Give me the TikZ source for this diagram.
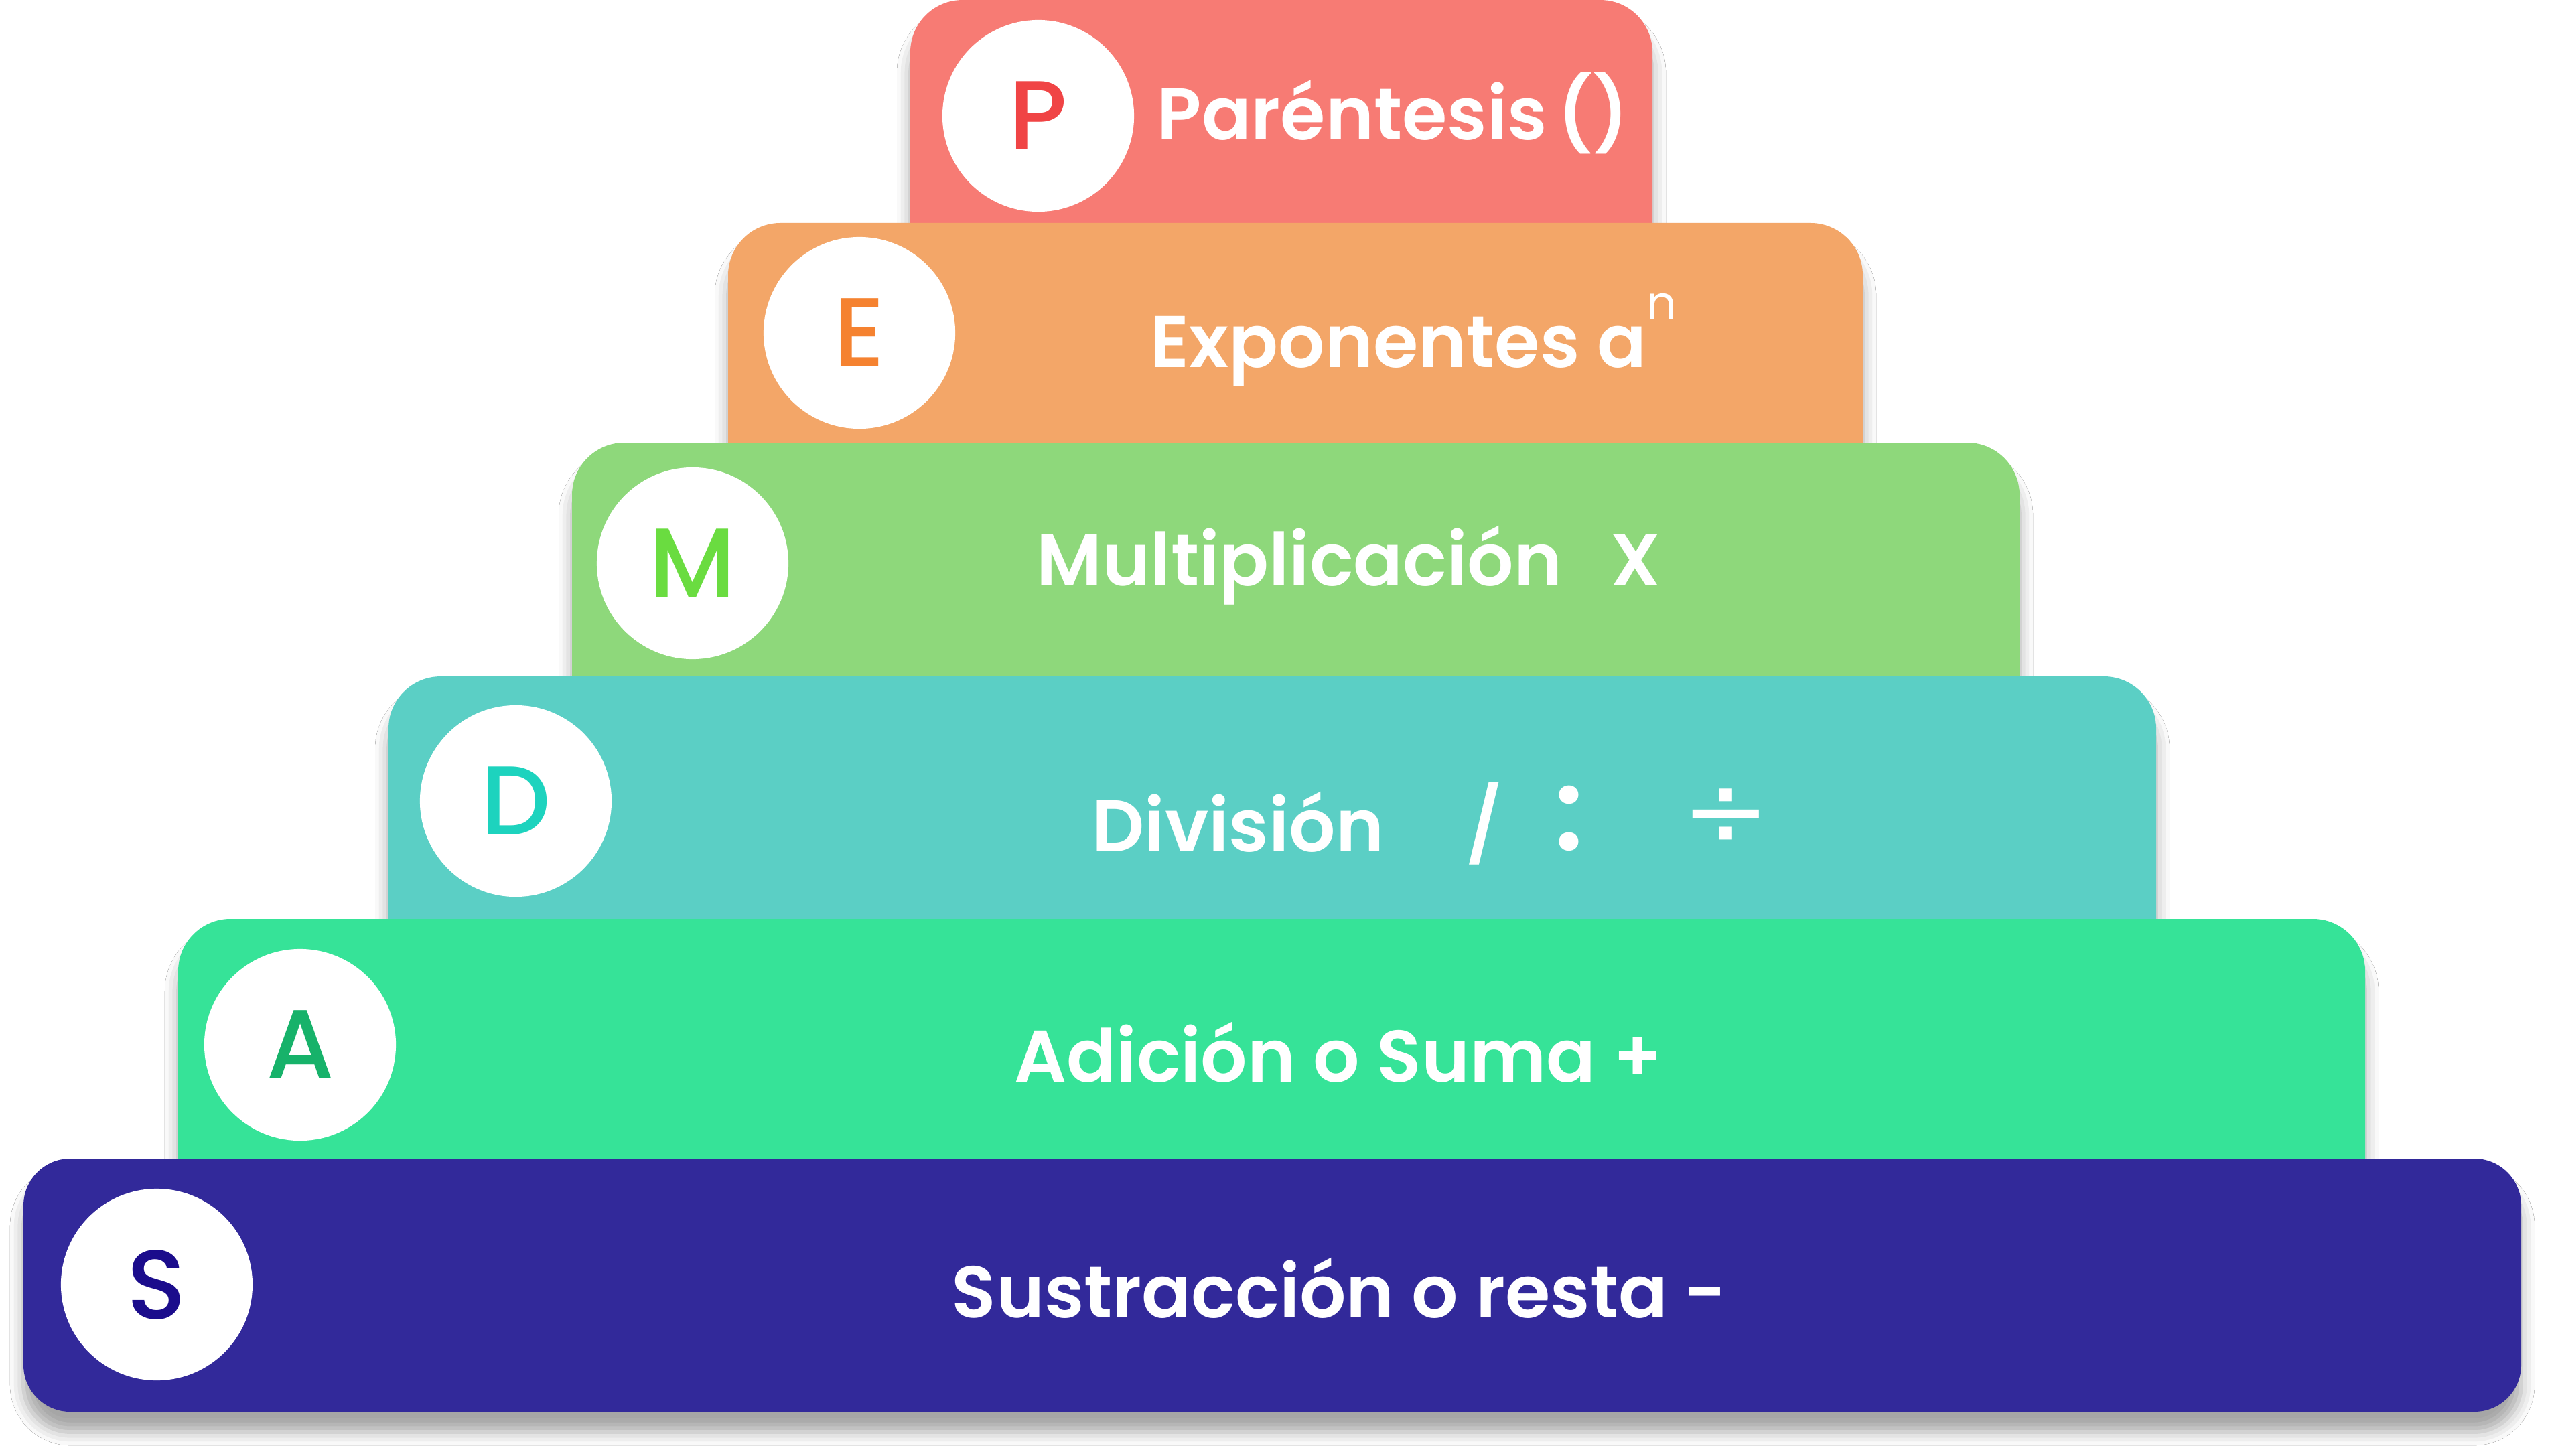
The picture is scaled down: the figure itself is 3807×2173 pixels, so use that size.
\documentclass[tikz,border=0pt]{standalone}
\usepackage{fontspec}
\setmainfont{Poppins}
\newfontfamily\popmed{Poppins Medium}
\newfontfamily\popsemi{Poppins SemiBold}
\newfontfamily\dejavu{DejaVu Sans}
\usetikzlibrary{shadows.blur}
\definecolor{cP}{HTML}{F77B74}
\definecolor{cE}{HTML}{F3A668}
\definecolor{cM}{HTML}{8ED87B}
\definecolor{cD}{HTML}{5BCFC5}
\definecolor{cA}{HTML}{36E398}
\definecolor{cS}{HTML}{32299A}
\definecolor{lP}{HTML}{F04445}
\definecolor{lE}{HTML}{F58230}
\definecolor{lM}{HTML}{6ADC40}
\definecolor{lD}{HTML}{1DD3BE}
\definecolor{lA}{HTML}{17B26A}
\definecolor{lS}{HTML}{1B0C8C}
\begin{document}
\begin{tikzpicture}[x=0.01cm,y=-0.01cm,
  stair/.style={rounded corners=0.78cm,
    blur shadow={shadow xshift=0cm, shadow yshift=-0.3cm, shadow blur radius=0.2cm, shadow opacity=35}},
  badge/.style={circle, fill=white, minimum size=2.86cm, inner sep=0pt,
    font=\popmed\fontsize{41.6}{50}\selectfont},
  lbl/.style={anchor=base west, inner sep=0pt, text=white,
    font=\popsemi\fontsize{31}{37}\selectfont},
  sym/.style={inner sep=0pt, text=white, font=\popsemi\fontsize{31}{37}\selectfont}]
\useasboundingbox (0,0) rectangle (3807,2173);
\fill[white] (0,0) rectangle (3807,2173);
% stairs
\fill[cP, stair] (1359,0) rectangle (2467,520);
\fill[cE, stair] (1087,333) rectangle (2781,880);
\fill[cM, stair] (854,661) rectangle (3015,1230);
\fill[cD, stair] (580,1010) rectangle (3219,1590);
\fill[cA, stair] (266,1372) rectangle (3531,1950);
\fill[cS, stair, rounded corners=0.7cm] (35,1730) rectangle (3764,2108);
% badges
\node[badge, text=lP] (bP) at (1550,173) {P};
\node[badge, text=lE] (bE) at (1283,497) {E};
\node[badge, text=lM] (bM) at (1034,841) {M};
\node[badge, text=lD] (bD) at (770,1196) {D};
\node[badge, text=lA] (bA) at (448,1560) {A};
\node[badge, text=lS] (bS) at (234,1918) {S};
% labels
\node[lbl] (tP) at (1727,209) {Paréntesis};
\node[lbl] (sP) at (2325,209) {()};
\node[lbl] (tE) at (1717,548) {Exponentes a};
\node[anchor=base west, inner sep=0pt, text=white, font=\fontsize{20}{24}\selectfont] (sE) at (2458,478) {n};
\node[lbl] (tM) at (1547,874) {Multiplicación};
\node[lbl] (sM) at (2404,874) {X};
\node[lbl] (tD) at (1630,1271) {División};
\node[sym] (sD1) at (2216,1230) {/};
\node[sym, font=\popsemi\fontsize{48}{56}\selectfont] (sD2) at (2343,1222) {:};
\node[sym, font=\dejavu\fontsize{45}{54}\selectfont] (sD3) at (2577,1222) {÷};
\node[lbl] (tA) at (1514,1615) {Adición o Suma};
\node[lbl] (sA) at (2408,1615) {+};
\node[lbl] (tS) at (1420,1967) {Sustracción o resta};
\node[lbl] (sS) at (2514,1967) {-};
\end{tikzpicture}
\end{document}
